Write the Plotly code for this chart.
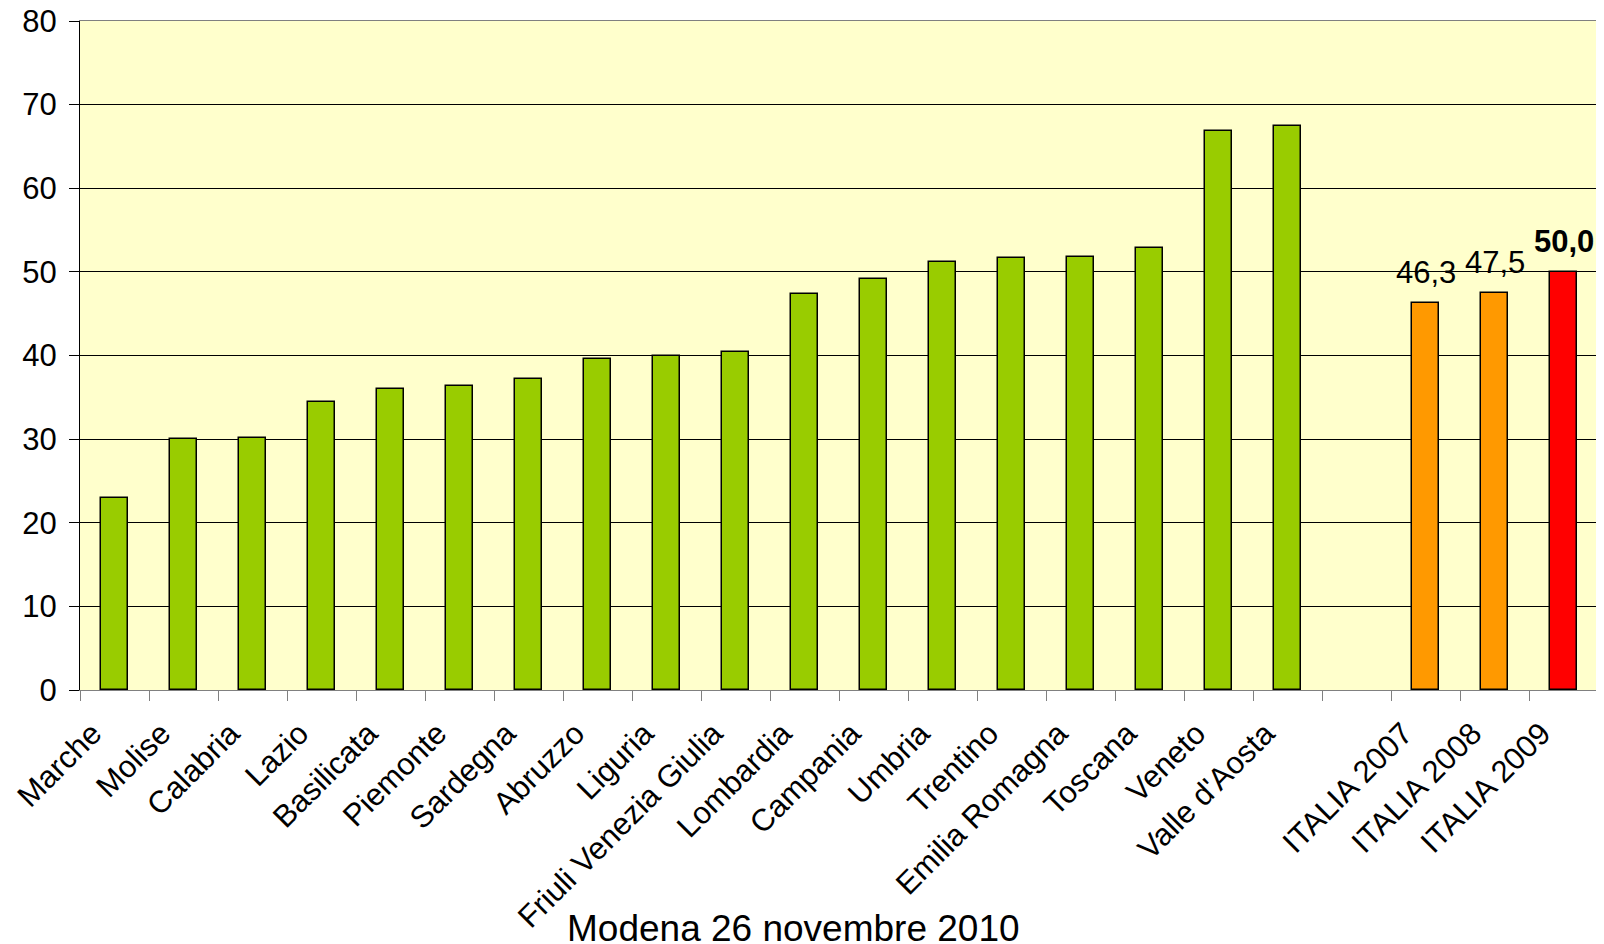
import plotly.graph_objects as go

categories = ["Marche", "Molise", "Calabria", "Lazio", "Basilicata", "Piemonte",
              "Sardegna", "Abruzzo", "Liguria", "Friuli Venezia Giulia", "Lombardia",
              "Campania", "Umbria", "Trentino", "Emilia Romagna", "Toscana", "Veneto",
              "Valle d'Aosta", " ", "ITALIA 2007", "ITALIA 2008", "ITALIA 2009"]
values = [23.0, 30.0, 30.1, 34.4, 36.0, 36.3, 37.2, 39.6, 39.9, 40.4, 47.4,
          49.2, 51.2, 51.6, 51.8, 52.9, 66.9, 67.5, None, 46.3, 47.5, 50.0]
labels = ["", "", "", "", "", "", "", "", "", "", "", "", "", "", "", "", "", "",
          "", "46,3", "47,5", "<b>50,0</b>"]
yticks = [0, 10, 20, 30, 40, 50, 60, 70, 80]
footer = "Modena 26 novembre 2010"

colors = []
for c in categories:
    if c == "ITALIA 2009":
        colors.append("#FF0000")
    elif c.startswith("ITALIA"):
        colors.append("#FF9900")
    else:
        colors.append("#99CC00")

fig = go.Figure(go.Bar(
    x=categories, y=values, width=0.4,
    marker=dict(color=colors, line=dict(color="black", width=1.5)),
    cliponaxis=False,
))

annotations = []
for c, v, t in zip(categories, values, labels):
    if t:
        annotations.append(dict(x=c, y=v, xref="x", yref="y", text=t, showarrow=False,
                                xanchor="center", yanchor="bottom", yshift=11,
                                font=dict(family="Liberation Sans, Arial", size=31,
                                          color="black")))
annotations.append(dict(text=footer, xref="paper", yref="paper", x=0.47, y=-0.357,
                        xanchor="center", yanchor="middle", showarrow=False,
                        font=dict(family="Liberation Sans, Arial", size=37, color="black")))

# the page body has an 8px margin, so margins are offset to compensate
fig.update_layout(
    width=1604, height=944,
    margin=dict(l=72, r=14, t=13, b=262),
    paper_bgcolor="white", plot_bgcolor="#FFFFCC",
    showlegend=False, bargap=0,
    font=dict(family="Liberation Sans, Arial", size=30, color="black"),
    xaxis=dict(type="category", tickangle=-45, tickson="boundaries",
               ticks="outside", ticklen=10, tickcolor="#808080",
               showline=True, linecolor="#808080", linewidth=1, mirror=True,
               showgrid=False, tickfont=dict(size=31), automargin=False,
               ticklabelshift=-22, ticklabelstandoff=12),
    yaxis=dict(range=[0, 80], tickvals=yticks, ticks="outside", ticklen=10,
               tickcolor="black", showline=True, linecolor="black", linewidth=1,
               showgrid=True, gridcolor="black", gridwidth=1, zeroline=False,
               tickfont=dict(size=31), automargin=False, ticklabelstandoff=6,
               ticklabeloverflow="allow"),
    shapes=[dict(type="line", xref="paper", yref="paper", x0=1, x1=1, y0=0, y1=1,
                 line=dict(color="#808080", width=1))],
    annotations=annotations,
)

fig.write_html("out.html")
